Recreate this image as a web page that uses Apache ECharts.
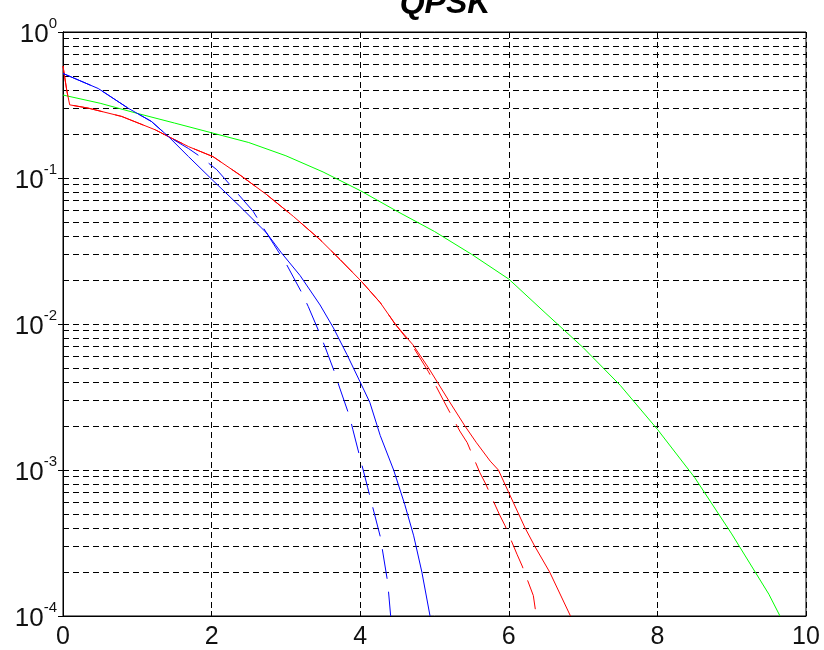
<!DOCTYPE html>
<html>
<head>
<meta charset="utf-8">
<script src="https://cdn.jsdelivr.net/npm/echarts@6/dist/echarts.min.js"></script>
<style>html,body{margin:0;padding:0;background:#fff}#c{width:824px;height:650px}</style>
</head>
<body>
<div id="c"></div>
<script>
const titleText = 'QPSK';
const xTicks = [0, 2, 4, 6, 8, 10];
const yDecades = [1e-4, 1e-3, 1e-2, 1e-1, 1];

const greenX = [0, 0.5, 1, 1.5, 2, 2.5, 3, 3.5, 4, 4.5, 5, 5.5, 6, 6.5, 7, 7.5, 8, 8.5, 9, 9.5, 9.65];
const greenY = [0.37, 0.325, 0.277, 0.238, 0.204, 0.175, 0.142, 0.11, 0.082, 0.059, 0.043, 0.030, 0.0203, 0.0118, 0.0069, 0.0038, 0.0019, 0.00089, 0.000365, 0.000141, 0.0001];

const blueSolidX = [0, 0.475, 0.88, 1.19, 1.42, 1.69, 2.02, 2.38, 2.74, 2.94, 3.19, 3.46, 3.64, 3.82, 4.0, 4.13, 4.27, 4.45, 4.6, 4.72, 4.83, 4.94];
const blueSolidY = [0.52, 0.41, 0.30, 0.244, 0.192, 0.140, 0.096, 0.064, 0.042, 0.0307, 0.0215, 0.0135, 0.0094, 0.0062, 0.004, 0.0029, 0.00172, 0.001, 0.00058, 0.000354, 0.0002, 0.0001];

const blueDashX = [0, 0.475, 0.88, 1.19, 1.42, 1.69, 1.84, 2.07, 2.23, 2.56, 2.74, 3.01, 3.21, 3.30, 3.46, 3.53, 3.66, 3.72, 3.86, 3.90, 4.1, 4.27, 4.37, 4.41];
const blueDashY = [0.52, 0.41, 0.30, 0.244, 0.192, 0.159, 0.141, 0.114, 0.092, 0.059, 0.042, 0.0255, 0.0165, 0.0132, 0.0085, 0.0069, 0.0046, 0.0037, 0.0023, 0.0019, 0.00076, 0.00035, 0.00017, 0.0001];

const redSolidX = [0, 0.05, 0.09, 0.34, 0.79, 1.24, 1.42, 1.69, 2.02, 2.38, 2.74, 3.10, 3.46, 3.73, 4.02, 4.27, 4.47, 4.71, 4.92, 5.19, 5.41, 5.56, 5.75, 5.86, 6.06, 6.22, 6.35, 6.55, 6.83];
const redSolidY = [0.585, 0.40, 0.317, 0.301, 0.264, 0.214, 0.192, 0.164, 0.14, 0.105, 0.077, 0.0546, 0.0378, 0.0276, 0.0195, 0.014, 0.01, 0.0072, 0.005, 0.003, 0.002, 0.00155, 0.00115, 0.001, 0.0006, 0.0004, 0.0003, 0.0002, 0.0001];

const redDashX = [0, 0.05, 0.09, 0.34, 0.79, 1.24, 1.42, 1.69, 2.02, 2.38, 2.74, 3.10, 3.46, 3.73, 4.02, 4.27, 4.47, 4.71, 4.92, 5.12, 5.34, 5.44, 5.61, 5.69, 5.87, 5.95, 6.11, 6.18, 6.33, 6.37];
const redDashY = [0.585, 0.40, 0.317, 0.301, 0.264, 0.214, 0.192, 0.164, 0.14, 0.105, 0.077, 0.0546, 0.0378, 0.0276, 0.0195, 0.014, 0.01, 0.0070, 0.0047, 0.0030, 0.00185, 0.00154, 0.00096, 0.0008, 0.0005, 0.000415, 0.000265, 0.00022, 0.000138, 0.0001];

function zip(xs, ys) { return xs.map((x, i) => [x, ys[i]]); }

const FONT = 'Liberation Sans, Arial, sans-serif';
const DASH_GRID = [6, 4];
const DASH_SERIES = [30, 13];

function lineSeries(name, xs, ys, color, dashed) {
  return {
    name: name, type: 'line', xAxisIndex: 0, yAxisIndex: 0,
    data: zip(xs, ys), showSymbol: false, symbol: 'none', silent: true,
    animation: false, clip: true,
    lineStyle: { color: color, width: 1, type: dashed ? DASH_SERIES : 'solid' }
  };
}

const chart = echarts.init(document.getElementById('c'), null, { renderer: 'canvas' });
chart.setOption({
  backgroundColor: '#ffffff',
  animation: false,
  title: {
    text: titleText, left: 440, top: -17, textAlign: 'center',
    textStyle: { fontFamily: FONT, fontSize: 32, fontWeight: 'bold', fontStyle: 'italic', color: '#000' }
  },
  grid: { left: 63, right: 18, top: 32, bottom: 33, show: true, borderColor: '#000', borderWidth: 1, backgroundColor: 'transparent' },
  xAxis: [{
    type: 'value', min: 0, max: 10, interval: 2, position: 'bottom',
    axisLine: { show: true, lineStyle: { color: '#000', width: 1 } },
    axisTick: { show: true, inside: true, length: 5, lineStyle: { color: '#000' } },
    axisLabel: { fontFamily: FONT, fontSize: 25, color: '#111', margin: 9 },
    splitLine: { show: true, lineStyle: { color: '#000', width: 1, type: DASH_GRID } }
  }, {
    type: 'value', min: 0, max: 10, interval: 2, position: 'top',
    axisLine: { show: true, lineStyle: { color: '#000', width: 1 } },
    axisTick: { show: true, inside: true, length: 5, lineStyle: { color: '#000' } },
    axisLabel: { show: false }, splitLine: { show: false }
  }],
  yAxis: [{
    type: 'log', logBase: 10, min: yDecades[0], max: yDecades[yDecades.length - 1], position: 'left',
    axisLine: { show: true, lineStyle: { color: '#000', width: 1 } },
    axisTick: { show: true, inside: true, length: 5, lineStyle: { color: '#000' } },
    minorTick: { show: true, splitNumber: 9, length: 3, lineStyle: { color: '#000' } },
    minorSplitLine: { show: true, lineStyle: { color: '#000', width: 1, type: DASH_GRID } },
    splitLine: { show: true, lineStyle: { color: '#000', width: 1, type: DASH_GRID } },
    axisLabel: {
      margin: 6,
      formatter: function (v) { return '{b|10}{s|' + Math.round(Math.log10(v)) + '}'; },
      rich: {
        b: { fontFamily: FONT, fontSize: 26, lineHeight: 32, color: '#111', verticalAlign: 'bottom' },
        s: { fontFamily: FONT, fontSize: 15, color: '#111', verticalAlign: 'top' }
      }
    }
  }, {
    type: 'log', logBase: 10, min: yDecades[0], max: yDecades[yDecades.length - 1], position: 'right',
    axisLine: { show: true, lineStyle: { color: '#000', width: 1 } },
    axisTick: { show: true, inside: true, length: 5, lineStyle: { color: '#000' } },
    axisLabel: { show: false }, splitLine: { show: false }
  }],
  series: [
    lineSeries('green', greenX, greenY, '#00ff00', false),
    lineSeries('red dashed', redDashX, redDashY, '#ff0000', true),
    lineSeries('red solid', redSolidX, redSolidY, '#ff0000', false),
    lineSeries('blue dashed', blueDashX, blueDashY, '#0000ff', true),
    lineSeries('blue solid', blueSolidX, blueSolidY, '#0000ff', false)
  ]
});
</script>
</body>
</html>
